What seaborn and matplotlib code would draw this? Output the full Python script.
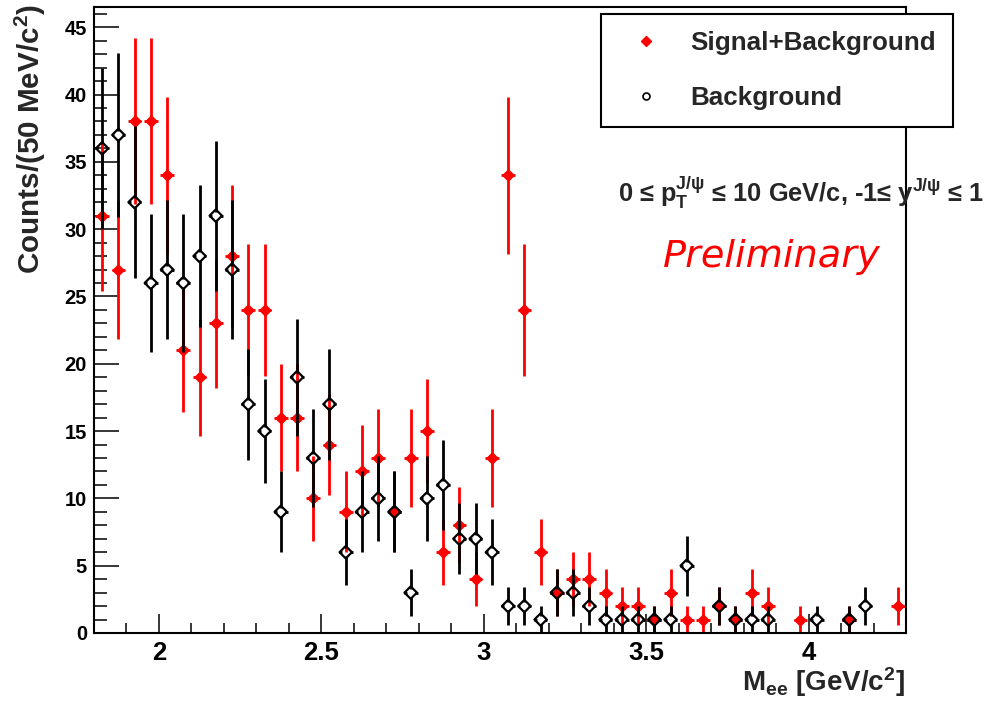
import numpy as np
import pandas as pd
import matplotlib
matplotlib.use("Agg")
import matplotlib.pyplot as plt
from matplotlib.lines import Line2D
from matplotlib.ticker import MultipleLocator, FixedLocator
import seaborn as sns

# 50 MeV/c^2 bins between 1.8 and 4.3 GeV/c^2
bin_edges_lo = 1.8
bin_width = 0.05
n_bins = 50
mass = bin_edges_lo + bin_width * (np.arange(n_bins) + 0.5)

# Unlike-sign pairs (signal + background), counts per bin
signal_bkg = [31, 27, 38, 38, 34, 21, 19, 23, 28, 24,
              24, 16, 16, 10, 14, 9, 12, 13, 9, 13,
              15, 6, 8, 4, 13, 34, 24, 6, 3, 4,
              4, 3, 2, 2, 1, 3, 1, 1, 2, 1,
              3, 2, 0, 1, 0, 0, 1, 0, 0, 2]

# Like-sign pairs (background), counts per bin
background = [36, 37, 32, 26, 27, 26, 28, 31, 27, 17,
              15, 9, 19, 13, 17, 6, 9, 10, 9, 3,
              10, 11, 7, 7, 6, 2, 2, 1, 3, 3,
              2, 1, 1, 1, 1, 1, 5, 0, 2, 1,
              1, 1, 0, 0, 1, 0, 1, 2, 0, 0]

x_ticks = [2, 2.5, 3, 3.5, 4]
x_tick_labels = ["2", "2.5", "3", "3.5", "4"]
y_ticks = [0, 5, 10, 15, 20, 25, 30, 35, 40, 45]

sns.set_theme(style="white")
plt.rcParams["font.family"] = ["Liberation Sans", "DejaVu Sans"]
plt.rcParams["font.weight"] = "bold"
plt.rcParams["mathtext.fontset"] = "custom"
plt.rcParams["mathtext.rm"] = "Liberation Sans:bold"
plt.rcParams["mathtext.it"] = "Liberation Sans:bold"
plt.rcParams["mathtext.bf"] = "Liberation Sans:bold"

W, H = 990, 703
fig = plt.figure(figsize=(W / 100, H / 100), dpi=100)
fig.patch.set_facecolor("white")
ax = fig.add_axes([94 / W, 70 / H, (906 - 94) / W, (633 - 7) / H])
ax.set_facecolor("white")
ax.set_xlim(1.8, 4.3)
ax.set_ylim(0, 46.5)

frame = pd.DataFrame({
    "mass": np.concatenate([mass, mass]),
    "counts": np.concatenate([signal_bkg, background]).astype(float),
    "sample": ["Signal+Background"] * n_bins + ["Background"] * n_bins,
})
frame = frame[frame["counts"] > 0]


def draw_errors(df, color, z, gap_px):
    """Poisson error bars with a gap around the marker, ROOT style."""
    fig.canvas.draw()
    p0 = ax.transData.transform((0, 0))
    p1 = ax.transData.transform((1, 1))
    gx = gap_px / (p1[0] - p0[0])
    gy = gap_px / (p1[1] - p0[1])
    x = df["mass"].to_numpy()
    y = df["counts"].to_numpy()
    err = np.sqrt(y)
    xe = 0.42 * bin_width
    kw = dict(colors=color, linewidth=2.0, zorder=z)
    ax.vlines(x, y + gy, y + err, **kw)
    ax.vlines(x, np.maximum(y - err, 0), y - gy, **kw)
    ax.hlines(y, x - xe, x - gx, **kw)
    ax.hlines(y, x + gx, x + xe, **kw)


sig = frame[frame["sample"] == "Signal+Background"]
bkg = frame[frame["sample"] == "Background"]

draw_errors(sig, "#ff0000", 2, 3.0)
sns.scatterplot(data=sig, x="mass", y="counts", ax=ax, marker="D", s=38,
                color="#ff0000", edgecolor="#ff0000", linewidth=0.5,
                zorder=3, legend=False)
draw_errors(bkg, "black", 4, 4.0)
sns.scatterplot(data=bkg, x="mass", y="counts", ax=ax, marker="D", s=40,
                facecolor="none", edgecolor="black", linewidth=1.6,
                zorder=5, legend=False)

ax.set_xlabel("")
ax.set_ylabel("")

# ROOT-like axes: inward ticks on the left and bottom only
for side in ["left", "right", "top", "bottom"]:
    ax.spines[side].set_visible(True)
    ax.spines[side].set_color("black")
    ax.spines[side].set_linewidth(1.5)
ax.xaxis.set_major_locator(FixedLocator(x_ticks))
ax.set_xticklabels(x_tick_labels)
ax.xaxis.set_minor_locator(MultipleLocator(0.1))
ax.yaxis.set_major_locator(FixedLocator(y_ticks))
ax.yaxis.set_minor_locator(MultipleLocator(1))
ax.tick_params(axis="both", which="both", direction="in", color="black",
               top=False, right=False, bottom=True, left=True)
ax.tick_params(axis="y", which="major", length=18, width=1.1, pad=5,
               labelsize=14.5)
ax.tick_params(axis="y", which="minor", length=9.5, width=1.1)
ax.tick_params(axis="x", which="major", length=14, width=1.1, pad=6,
               labelsize=18.5)
ax.tick_params(axis="x", which="minor", length=7, width=1.1)
for lab in ax.get_xticklabels() + ax.get_yticklabels():
    lab.set_fontweight("bold")
    lab.set_color("black")

fig.text(30 / W, 1 - 4 / H, r"Counts/(50 MeV/c$^{2}$)", rotation=90,
         ha="center", va="top", fontsize=21.3, fontweight="bold")
fig.text(905 / W, 1 - 691 / H, r"M$_{\rm ee}$ [GeV/c$^{2}$]",
         ha="right", va="baseline", fontsize=20, fontweight="bold")

fig.text(618 / W, 1 - 202 / H,
         r"0 ≤ p$_{\rm T}^{\rm J/ψ}$ ≤ 10 GeV/c, -1≤ y$^{\rm J/ψ}$ ≤ 1",
         ha="left", va="baseline", fontsize=18.3, fontweight="bold")
fig.text(663 / W, 1 - 267 / H, "Preliminary", ha="left", va="baseline",
         fontsize=27.5, color="#ff0000", family=["DejaVu Sans"],
         style="italic", fontweight="normal")

handles = [
    Line2D([], [], linestyle="none", marker="D", markersize=5.5,
           color="#ff0000", markeredgecolor="#ff0000"),
    Line2D([], [], linestyle="none", marker="o", markersize=5,
           markerfacecolor="white", markeredgecolor="black",
           markeredgewidth=1.2),
]
leg = fig.legend(handles, ["Signal+Background", "Background"],
                 loc="upper left", bbox_to_anchor=(601 / W, 1 - 14 / H),
                 bbox_transform=fig.transFigure, frameon=True, fancybox=False,
                 shadow=False, framealpha=1, edgecolor="black",
                 fontsize=18.7, borderpad=0.65, labelspacing=1.2,
                 handlelength=2.2, handletextpad=0.6, borderaxespad=0)
leg.get_frame().set_linewidth(1.5)
for t in leg.get_texts():
    t.set_fontweight("bold")
leg.set_zorder(10)

fig.savefig("out.png", dpi=100, facecolor="white")
